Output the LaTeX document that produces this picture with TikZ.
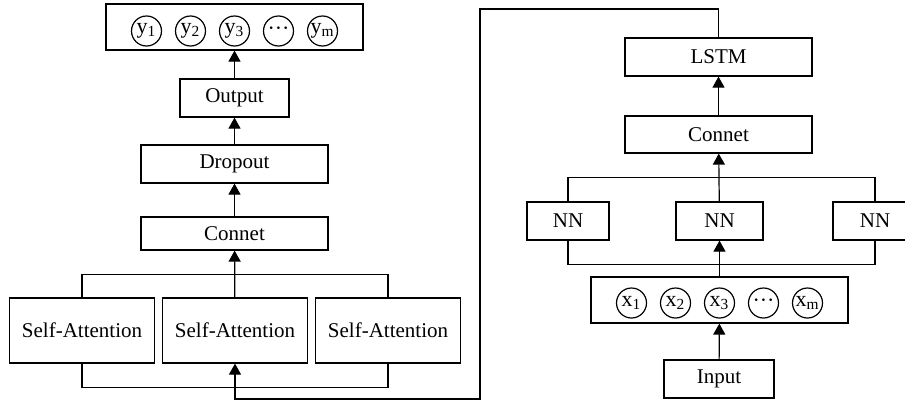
\documentclass[tikz,border=0pt]{standalone}
\usepackage{fontspec}
\setmainfont{Liberation Serif}
\usetikzlibrary{arrows.meta}

\begin{document}
\begin{tikzpicture}[x=0.5pt,y=-0.5pt,line width=0.6pt,
  font=\fontsize{10.5}{12}\selectfont,
  >={Triangle[length=5.5pt,width=6pt]}]
  \tikzstyle{block}=[draw, rectangle, inner sep=0pt, minimum height=19pt]
  \tikzstyle{unit}=[draw, circle, inner sep=0pt, minimum size=15pt, font=\fontsize{11}{12}\selectfont]
  \clip (0,0) rectangle (905,402);
  % left column
  \node[block, minimum width=128.5pt, minimum height=23pt] (Y) at (234.5,27) {};
  \node[block, minimum width=54.5pt] (Out) at (234.5,98) {Output};
  \node[block, minimum width=93.5pt] (Drop) at (234.5,164) {Dropout};
  \node[block, minimum width=93.5pt, minimum height=16.5pt] (Con_1) at (234.5,233.5) {Connet};
  \node[block, minimum width=72.5pt, minimum height=32.5pt] (SA_1) at (82,330.5) {Self-Attention};
  \node[block, minimum width=72.5pt, minimum height=32.5pt] (SA_2) at (235,330.5) {Self-Attention};
  \node[block, minimum width=72.5pt, minimum height=32.5pt] (SA_3) at (388,330.5) {Self-Attention};
  \foreach \i/\t in {1/y\textsubscript{1},2/y\textsubscript{2},3/y\textsubscript{3},4/···,5/y\textsubscript{m}}
    \node[unit] (Y_\i) at (102.5+44*\i,31) {\t};
  % right column
  \node[block, minimum width=93.5pt] (LSTM) at (718.5,57) {LSTM};
  \node[block, minimum width=93.5pt, minimum height=18.5pt] (Con_2) at (718.5,134.5) {Connet};
  \node[block, minimum width=41pt] (NN_1) at (568,221) {NN};
  \node[block, minimum width=43.5pt] (NN_2) at (719.5,221) {NN};
  \node[block, minimum width=42pt] (NN_3) at (875,221) {NN};
  \node[block, minimum width=128.5pt, minimum height=23pt] (X) at (719.5,300) {};
  \node[block, minimum width=55pt] (In) at (719,379) {Input};
  \foreach \i/\t in {1/x\textsubscript{1},2/x\textsubscript{2},3/x\textsubscript{3},4/···,5/x\textsubscript{m}}
    \node[unit] (X_\i) at (587.5+44*\i,303) {\t};
  \coordinate (loopT) at (480,9);
  \coordinate (loopB) at (480,399);
  % connectors
  \draw[->] (Out) -- (Y);
  \draw[->] (Drop) -- (Out);
  \draw[->] (Con_1) -- (Drop);
  \draw[->] (SA_2) -- (Con_1);
  \draw (SA_1.north) -- +(0,-23) -| (SA_3.north);
  \draw (SA_1.south) -- +(0,24) -| (SA_3.south);
  \draw[->] (LSTM.north) |- (loopT) -- (loopB) -| (SA_2.south);
  \draw[->] (Con_2) -- (LSTM);
  \draw[->] (NN_2) -- (Con_2);
  \draw[->] (X) -- (NN_2);
  \draw[->] (In) -- (X);
  \draw (NN_1.north) -- +(0,-24) -| (NN_3.north);
  \draw (NN_1.south) -- +(0,24) -| (NN_3.south);
\end{tikzpicture}
\end{document}
